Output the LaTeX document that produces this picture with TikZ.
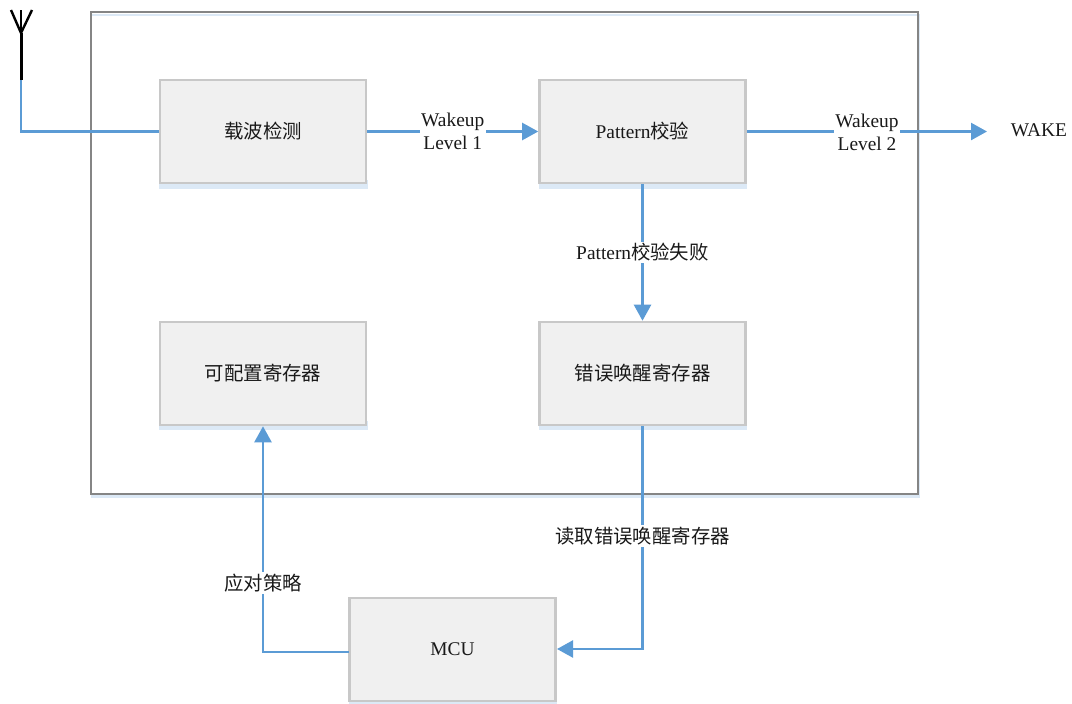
\documentclass[tikz,border=0pt]{standalone}
\usepackage{fontspec}
\setmainfont{Liberation Serif}
\newfontfamily\cjk{Noto Sans CJK SC}
\usetikzlibrary{arrows.meta}
\definecolor{linkblue}{HTML}{5B9BD5}
\definecolor{shadowblue}{HTML}{DCE9F6}
\definecolor{boxfill}{HTML}{F0F0F0}
\definecolor{boxedge}{HTML}{C8C8C8}
\definecolor{frameedge}{HTML}{858585}
\tikzset{
  x=1pt,y=-1pt,
  every node/.style={font=\fontsize{19.4}{23}\selectfont, text=black!90},
  blockbox/.style={draw=boxedge,fill=boxfill,line width=2.6pt,minimum width=206pt,minimum height=103pt,inner sep=0pt,anchor=center},
  link/.style={draw=linkblue,line width=2.4pt},
  linkarrow/.style={link,-{Triangle[length=16pt,width=17pt,fill=linkblue]}},
  tag/.style={fill=white,inner sep=1.5pt,align=center},
  freetext/.style={inner sep=0pt,align=center},
}
\begin{document}
\begin{tikzpicture}
\useasboundingbox (0,0) rectangle (1072,704);
% outer frame with pale shadow
\fill[shadowblue] (91,14) rectangle (920,498);
\fill[white] (92,16) rectangle (918,494);
\node[draw=frameedge,line width=2pt,minimum width=827pt,minimum height=482pt,inner sep=0pt] (frame) at (504.5,252.5) {};
% shadows
\fill[shadowblue] (159,180) rectangle (368,189);
\fill[shadowblue] (539,180) rectangle (747,189);
\fill[shadowblue] (159,421) rectangle (368,430);
\fill[shadowblue] (539,421) rectangle (747,430);
\fill[shadowblue] (349,698) rectangle (557,704);
% blocks
\node[blockbox] (carrier) at (263,131.5) {\cjk 载波检测};
\node[blockbox] (pattern) at (642.5,131.5) {Pattern\cjk 校验};
\node[blockbox] (config) at (263,373.5) {\cjk 可配置寄存器};
\node[blockbox] (error) at (642.5,373.5) {\cjk 错误唤醒寄存器};
\node[blockbox] (mcu) at (452.5,649.5) {MCU};
% antenna
\coordinate (antTop) at (21,10);
\coordinate (antJoin) at (21,33);
\coordinate (antFoot) at (21,80);
\coordinate (antL) at (11,10);
\coordinate (antR) at (32,10);
\draw[black,line width=3pt] (antJoin) -- (antFoot);
\draw[black,line width=2pt] (antTop) -- (antJoin);
\draw[black,line width=2.4pt] (antL) -- (antJoin) -- (antR);
% free ends
\node[freetext] (wake) at (1039,130) {WAKE};
\coordinate (carrierIn) at (carrier.west);
\coordinate (wakeTip) at (987,131.5);
\coordinate (errorToMcu) at (642.5,649);
\coordinate (mcuIn) at (557,649);
\coordinate (mcuOut) at (349,652);
\coordinate (mcuBend) at (263,652);
% connectors
\draw[link] (antFoot) -- (21,131.5) -- (carrierIn);
\draw[linkarrow] (carrier.east) -- (pattern.west) node[midway,tag,yshift=0.5pt] {Wakeup\\Level 1};
\draw[linkarrow] (pattern.east) -- (wakeTip);
\node[tag] (lv2) at (867,132) {Wakeup\\Level 2};
\draw[linkarrow] (pattern.south) -- (error.north);
\node[tag] (faillabel) at (642.5,252) {Pattern\cjk 校验失败};
\draw[linkarrow] (error.south) -- (errorToMcu) -- (mcuIn);
\node[tag] (readlabel) at (642.5,536) {\cjk 读取错误唤醒寄存器};
\draw[linkarrow] (mcuOut) -- (mcuBend) -- (config.south);
\node[tag] (policy) at (263,583) {\cjk 应对策略};
\end{tikzpicture}
\end{document}
